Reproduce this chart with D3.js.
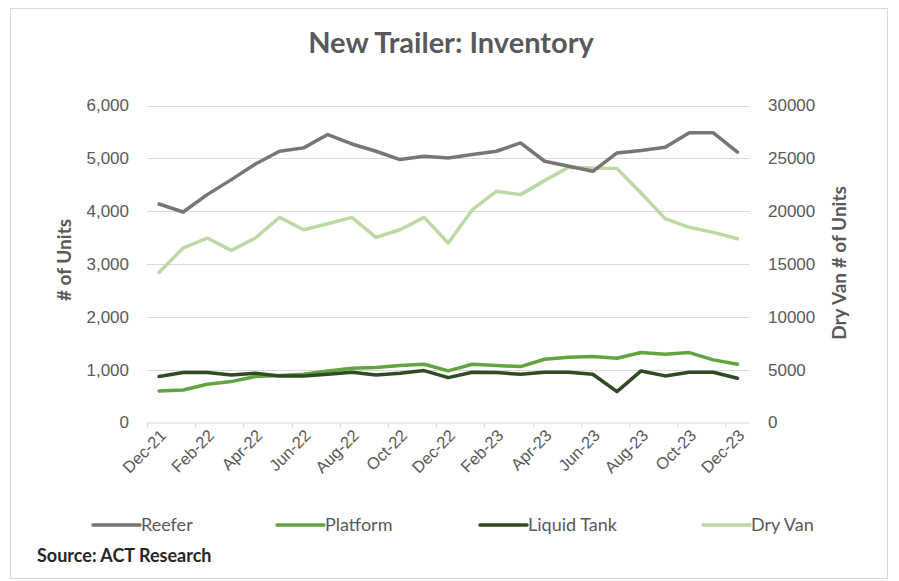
<!DOCTYPE html>
<html>
<head>
<meta charset="utf-8">
<script src="https://cdn.jsdelivr.net/npm/d3@7"></script>
<style>
  html, body { margin: 0; padding: 0; background: #fff; }
  svg { display: block; font-family: Lato, "Open Sans", sans-serif; }
</style>
</head>
<body>
<svg id="chart" width="899" height="581"></svg>
<script>
const months = ["Dec-21","Jan-22","Feb-22","Mar-22","Apr-22","May-22","Jun-22","Jul-22","Aug-22","Sep-22","Oct-22","Nov-22","Dec-22",
  "Jan-23","Feb-23","Mar-23","Apr-23","May-23","Jun-23","Jul-23","Aug-23","Sep-23","Oct-23","Nov-23","Dec-23"];
const reefer = [4136,3984,4313,4597,4894,5134,5198,5450,5272,5134,4976,5039,5008,5071,5134,5292,4945,4850,4755,5103,5147,5210,5482,5482,5118];
const platform = [597,616,724,774,869,888,913,976,1027,1040,1077,1103,976,1103,1077,1058,1197,1235,1248,1216,1324,1292,1324,1185,1103];
const liquidTank = [869,945,945,900,932,882,882,913,951,900,932,983,850,951,945,913,951,951,913,585,976,882,951,951,837];
const dryVan = [14200,16510,17460,16290,17460,19415,18245,18815,19415,17520,18245,19415,16985,20140,21880,21565,22890,24155,24090,24030,21720,19290,18470,17995,17395];
const leftTicks = [0,1000,2000,3000,4000,5000,6000];
const rightTicks = [0,5000,10000,15000,20000,25000,30000];
const xLabels = months.filter((m,i) => i % 2 === 0);

const svg = d3.select("#chart");
const textColor = "#595959";
const gridColor = "#d9d9d9";

// frame
svg.append("rect").attr("x", 10.5).attr("y", 8.5).attr("width", 877).attr("height", 570)
  .attr("fill", "#fff").attr("stroke", "#d9d9d9");

const plotLeft = 147, plotRight = 749.5, plotTop = 105.5, plotBottom = 422.5;
const x = d3.scaleBand().domain(months).range([plotLeft, plotRight]).padding(0);
const yL = d3.scaleLinear().domain([0, 6000]).range([plotBottom, plotTop]);
const yR = d3.scaleLinear().domain([0, 30000]).range([plotBottom, plotTop]);

// gridlines
svg.append("g").selectAll("line").data(leftTicks.filter(d => d > 0)).join("line")
  .attr("x1", plotLeft).attr("x2", plotRight)
  .attr("y1", d => Math.round(yL(d)) + 0.5).attr("y2", d => Math.round(yL(d)) + 0.5)
  .attr("stroke", gridColor).attr("stroke-width", 1);

// left axis
const axL = svg.append("g").attr("transform", `translate(${plotLeft},0)`)
  .call(d3.axisLeft(yL).tickValues(leftTicks).tickSize(0).tickPadding(18).tickFormat(d3.format(",")));
axL.select(".domain").remove();
axL.selectAll("text").attr("fill", textColor).style("font-size", "17px");

// right axis
const axR = svg.append("g").attr("transform", `translate(${plotRight},0)`)
  .call(d3.axisRight(yR).tickValues(rightTicks).tickSize(0).tickPadding(18.5).tickFormat(d3.format("d")));
axR.select(".domain").remove();
axR.selectAll("text").attr("fill", textColor).style("font-size", "17px");

// x axis
const axX = svg.append("g").attr("transform", `translate(0,${plotBottom})`)
  .call(d3.axisBottom(x).tickValues(xLabels).tickSize(0).tickFormat(d => d));
axX.select(".domain").attr("stroke", gridColor).attr("d", `M${plotLeft},0.5H${plotRight}`);
axX.selectAll(".tick text")
  .attr("fill", textColor).style("font-size", "16.5px")
  .attr("text-anchor", "end")
  .attr("transform", "translate(4,10) rotate(-45)")
  .attr("dy", "0.35em").attr("y", 0).attr("x", 0);
// tick marks at category boundaries
svg.append("g").selectAll("line").data(xLabels).join("line")
  .attr("x1", d => Math.round(x(d)) + 0.5).attr("x2", d => Math.round(x(d)) + 0.5)
  .attr("y1", plotBottom).attr("y2", plotBottom + 5)
  .attr("stroke", gridColor);

// lines
const lineL = d3.line().x((d, i) => x(months[i]) + x.bandwidth() / 2).y(d => yL(d));
const lineR = d3.line().x((d, i) => x(months[i]) + x.bandwidth() / 2).y(d => yR(d));

const series = [
  { name: "Dry Van", data: dryVan, color: "#bcd9a4", gen: lineR },
  { name: "Reefer", data: reefer, color: "#767676", gen: lineL },
  { name: "Platform", data: platform, color: "#62a540", gen: lineL },
  { name: "Liquid Tank", data: liquidTank, color: "#2f4b22", gen: lineL }
];
svg.append("g").selectAll("path").data(series).join("path")
  .attr("d", s => s.gen(s.data))
  .attr("fill", "none").attr("stroke", s => s.color)
  .attr("stroke-width", 3.5).attr("stroke-linejoin", "round").attr("stroke-linecap", "round");

// title
svg.append("text").attr("x", 451).attr("y", 53).attr("text-anchor", "middle")
  .attr("fill", textColor).style("font-size", "29px").style("font-weight", "bold")
  .text("New Trailer: Inventory");

// axis titles
svg.append("text").attr("transform", "translate(71,260) rotate(-90)").attr("text-anchor", "middle")
  .attr("fill", textColor).style("font-size", "19px").style("font-weight", "bold").text("# of Units");
svg.append("text").attr("transform", "translate(846,263) rotate(-90)").attr("text-anchor", "middle")
  .attr("fill", textColor).style("font-size", "19px").style("font-weight", "bold").text("Dry Van # of Units");

// legend
const legendItems = [
  { name: "Reefer", color: "#767676", x: 93 },
  { name: "Platform", color: "#62a540", x: 277 },
  { name: "Liquid Tank", color: "#2f4b22", x: 480 },
  { name: "Dry Van", color: "#bcd9a4", x: 703 }
];
const lg = svg.append("g").selectAll("g").data(legendItems).join("g")
  .attr("transform", d => `translate(${d.x},525)`);
lg.append("line").attr("x1", 0).attr("x2", 47).attr("y1", 0).attr("y2", 0)
  .attr("stroke", d => d.color).attr("stroke-width", 3.5).attr("stroke-linecap", "round");
lg.append("text").attr("x", 48).attr("y", 0).attr("dy", "0.35em")
  .attr("fill", textColor).style("font-size", "18px").text(d => d.name);

// source
svg.append("text").attr("x", 37).attr("y", 562)
  .attr("fill", "#262626").style("font-size", "18px").style("font-weight", "bold")
  .text("Source: ACT Research");
</script>
</body>
</html>
